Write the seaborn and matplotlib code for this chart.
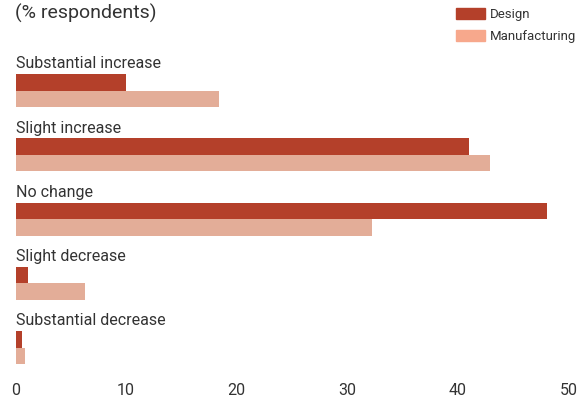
import matplotlib
matplotlib.use("Agg")
import matplotlib.pyplot as plt
import pandas as pd
import seaborn as sns
from matplotlib.patches import Patch

# data
categories = ["Substantial increase", "Slight increase", "No change",
              "Slight decrease", "Substantial decrease"]
design = [10.0, 41.0, 48.1, 1.1, 0.6]
manufacturing = [18.4, 42.9, 32.2, 6.3, 0.9]
series = ["Design", "Manufacturing"]
xticks = [0, 10, 20, 30, 40, 50]

df = pd.DataFrame({
    "category": categories * 2,
    "value": design + manufacturing,
    "series": ["Design"] * len(categories) + ["Manufacturing"] * len(categories),
})

sns.set_theme(style="white")
plt.rcParams["font.family"] = ["Roboto", "DejaVu Sans"]
text_col = "#333333"

W, H = 584, 400
fig = plt.figure(figsize=(W / 100, H / 100), dpi=100)
ax = fig.add_axes([15.5 / W, (H - 377) / H, 553 / W, 377 / H])

bar_cols = {"Design": "#b4402a", "Manufacturing": "#e3ad98"}
sns.barplot(data=df, x="value", y="category", hue="series", orient="h",
            palette=bar_cols, width=0.514, saturation=1, linewidth=0,
            legend=False, ax=ax)

ax.set_xlim(0, 50)
ax.set_ylim(4.459, -1.409)
ax.set_yticks([])
ax.set_xticks(xticks)
ax.set_xticklabels([str(t) for t in xticks], fontsize=11.5, color=text_col)
ax.set_xlabel("")
ax.set_ylabel("")
for s in ax.spines.values():
    s.set_visible(False)
ax.tick_params(axis="x", direction="in", length=12, width=1, color="#8a8a8a", pad=4)
ax.xaxis.get_major_ticks()[0].tick1line.set_color("#222222")

for k, cat in enumerate(categories):
    ax.text(0, k - 0.345, cat, fontsize=11.5, color=text_col, va="baseline", ha="left")

fig.text(15 / W, 1 - 4 / H, "(% respondents)", fontsize=14, color=text_col,
         va="top", ha="left")

handles = [Patch(color="#b4402a"), Patch(color="#f7a88c")]
fig.legend(handles, series, loc="upper left", bbox_to_anchor=(456 / W, 1 - 8 / H),
           frameon=False, fontsize=9.5, handlelength=2.2, handleheight=0.95,
           handletextpad=0.4, labelspacing=0.65, borderpad=0, borderaxespad=0,
           labelcolor=text_col)

fig.savefig("out.png", dpi=100)
